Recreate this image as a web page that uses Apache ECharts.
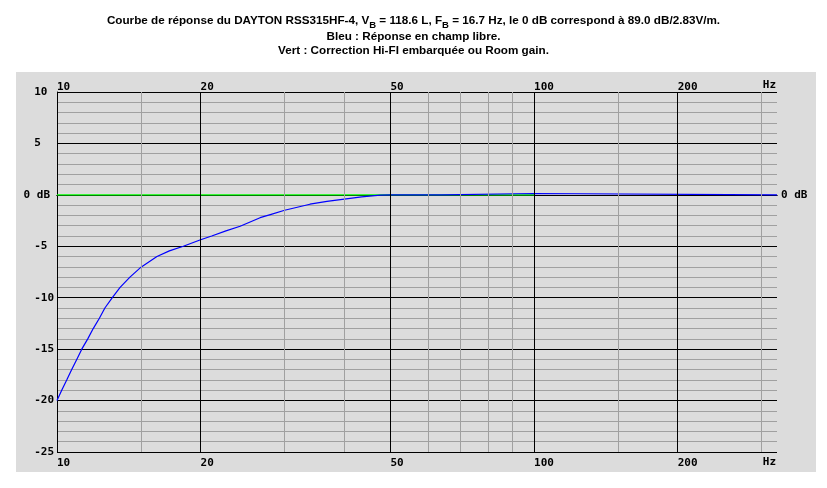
<!DOCTYPE html>
<html><head><meta charset="utf-8">
<script src="https://cdn.jsdelivr.net/npm/echarts@6/dist/echarts.min.js"></script>
<style>html,body{margin:0;padding:0;background:#fff}#c{width:827px;height:488px}</style>
</head><body><div id="c"></div>
<script>
// Blue: free-field response (frequency in Hz, level in dB)
const freqBlue = [10, 10.23, 10.48, 10.73, 11.0, 11.27, 11.6, 11.91, 12.27, 12.6, 13.06, 13.56, 14.22, 15.0, 16.2, 17.2, 18.4, 20, 21.1, 22.6, 24.2, 26.65, 28, 30, 33.9, 36.8, 40, 43.5, 47.6, 50, 64, 64.2, 100, 100.1, 323];
const dbBlue   = [-20.0, -19, -18, -17, -16, -15, -14, -13, -12, -11, -10, -9, -8, -7.03, -6.0, -5.45, -5.0, -4.37, -4.0, -3.5, -3.05, -2.22, -1.92, -1.5, -0.91, -0.64, -0.42, -0.2, -0.03, 0, 0, 0.13, 0.13, 0, 0];
// Green: Hi-Fi correction / room gain
const freqGreen = [10, 100];
const dbGreen   = [0, 0];
// Axis ticks / grid
const xTickLabels = [10, 20, 50, 100, 200];
const xMajorGrid = [20, 50, 100, 200];
const xMinorGrid = [15, 30, 40, 60, 70, 80, 90, 150, 300];
const xMin = 10, xMax = 323;
const yMin = -25, yMax = 10, yStep = 5;
const xUnit = 'Hz';

const chart = echarts.init(document.getElementById('c'));
const mono = 'DejaVu Sans Mono';
const labelStyle = {fontFamily: mono, fontWeight: 'bold', fontSize: 11, color: '#000'};
const titleFont = {fontFamily: 'Liberation Sans', fontWeight: 'bold', color: '#000'};

function xAxisDef(pos) {
  const top = pos === 'top';
  return {
    type: 'log', logBase: 10, min: xMin, max: xMax, position: pos,
    axisLine: {show: true, lineStyle: {color: '#000', width: 1}},
    axisTick: {show: false},
    splitLine: {show: false},
    axisLabel: Object.assign({customValues: xTickLabels, align: 'left', margin: top ? -1 : 6,
      verticalAlign: top ? 'bottom' : 'top', formatter: v => String(Math.round(v))}, labelStyle)
  };
}

const pairs = (xs, ys) => xs.map((x, i) => [x, ys[i]]);

chart.setOption({
  animation: false,
  backgroundColor: '#fff',
  title: {
    left: 'center', top: 12.5, padding: [0, 0, 0, 7],
    text: '{b|Courbe de réponse du DAYTON RSS315HF-4, V}{s|B}{b| = 118.6 L, F}{s|B}{b| = 16.7 Hz, le 0 dB correspond à 89.0 dB/2.83V/m.}\n{a|Bleu : Réponse en champ libre.}\n{a|Vert : Correction Hi-FI embarquée ou Room gain.}',
    textStyle: {
      rich: {
        b: Object.assign({fontSize: 11.7, lineHeight: 17, align: 'center'}, titleFont),
        a: Object.assign({fontSize: 11.7, lineHeight: 14, align: 'center'}, titleFont),
        s: Object.assign({fontSize: 9.5, lineHeight: 10, padding: [8, 0, 0, 0]}, titleFont)
      }
    }
  },
  graphic: [
    {type: 'rect', z: -10, shape: {x: 16, y: 72, width: 800, height: 400}, style: {fill: '#dcdcdc'}},
    {type: 'text', z: 10, x: 776, y: 91, style: {text: xUnit, align: 'right', verticalAlign: 'bottom', font: 'bold 11px "DejaVu Sans Mono"', fill: '#000'}},
    {type: 'text', z: 10, x: 776, y: 457, style: {text: xUnit, align: 'right', verticalAlign: 'top', font: 'bold 11px "DejaVu Sans Mono"', fill: '#000'}}
  ],
  grid: {left: 57, top: 92, width: 720, height: 360, show: false},
  xAxis: [xAxisDef('bottom'), xAxisDef('top')],
  yAxis: [{
    type: 'value', min: yMin, max: yMax, interval: yStep, position: 'left',
    axisLine: {show: true, lineStyle: {color: '#000'}},
    axisTick: {show: false},
    splitLine: {show: true, lineStyle: {color: '#000', width: 1}},
    minorTick: {show: false, splitNumber: 5},
    minorSplitLine: {show: true, lineStyle: {color: '#a0a0a0', width: 1}},
    axisLabel: Object.assign({align: 'right', margin: 3,
      formatter: v => v === 0 ? '{z|0 dB}' : String(v).padEnd(3, ' '),
      rich: {z: Object.assign({padding: [0, 4, 0, 0]}, labelStyle)}}, labelStyle)
  }, {
    type: 'value', min: yMin, max: yMax, interval: yStep, position: 'right',
    axisLine: {show: false}, axisTick: {show: false}, splitLine: {show: false},
    axisLabel: Object.assign({customValues: [0], align: 'left', margin: 4, formatter: () => '0 dB'}, labelStyle)
  }],
  series: [{
    type: 'line', data: [], silent: true, z: 1,
    markLine: {
      silent: true, symbol: ['none', 'none'], animation: false,
      label: {show: false},
      data: xMinorGrid.map(v => ({xAxis: v, lineStyle: {color: '#a0a0a0', width: 1, type: 'solid'}}))
        .concat(xMajorGrid.map(v => ({xAxis: v, lineStyle: {color: '#000', width: 1, type: 'solid'}})))
    }
  }, {
    name: 'Vert', type: 'line', z: 3, data: pairs(freqGreen, dbGreen), showSymbol: false,
    lineStyle: {color: '#00ff00', width: 1.2}
  }, {
    name: 'Bleu', type: 'line', z: 4, data: pairs(freqBlue, dbBlue), showSymbol: false,
    lineStyle: {color: '#0000ff', width: 1.2}
  }]
});
</script></body></html>
